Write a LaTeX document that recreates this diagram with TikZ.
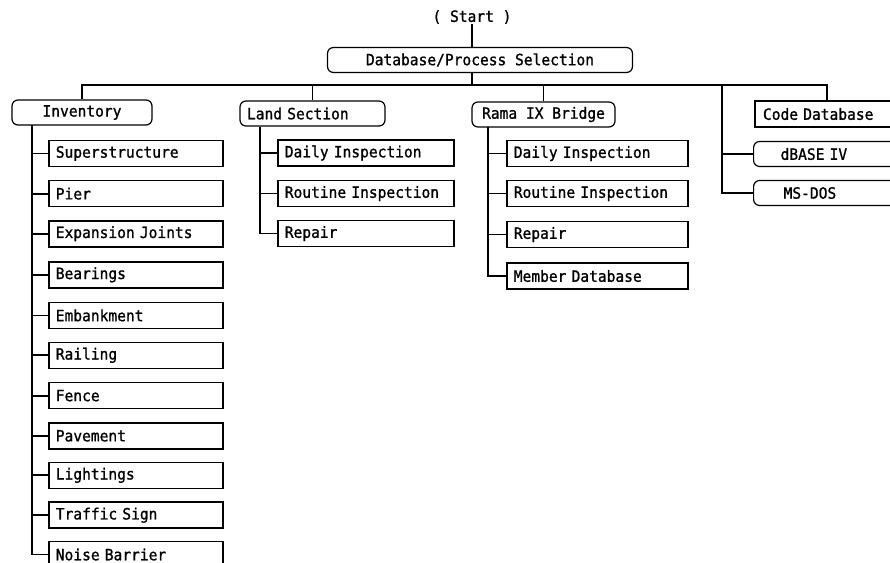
\documentclass[tikz,border=0pt]{standalone}
\usepackage{fontspec}
\setmonofont[FakeStretch=0.94, FakeBold=1.1]{DejaVu Sans Mono}

\tikzstyle{every node}=[font={\fontsize{15.5}{18}\selectfont\ttfamily}, inner sep=0pt]
\tikzstyle{group}=[draw, rounded corners=6pt, line width=1.2pt, minimum height=25pt]
\tikzstyle{leaf}=[draw, line width=1.6pt, minimum height=26pt, text width=160pt, inner xsep=7pt, align=left, anchor=west]
\tikzstyle{link}=[line width=1.8pt]

\begin{document}
\begin{tikzpicture}[x=1pt, y=-1pt]
    \clip (0,0) rectangle (890,562);

    \node (start) at (472,17) {( Start )};
    \node [group, minimum width=305pt] (sel) at (480,60) {Database/Process Selection};
    \coordinate (bus) at (472,85);

    \node [group, minimum width=140pt] (inv) at (82,112.5) {Inventory};
    \node [group, text width=131pt, inner xsep=7pt, align=left] (land) at (312.5,113.5) {Land Section};
    \node [group, minimum width=143pt] (rama) at (543.5,114.5) {Rama IX Bridge};
    \node [leaf, anchor=center, text width=128pt, inner xsep=8pt] (code) at (827,114) {Code Database};
    \node [group, anchor=west, text width=100pt, inner xsep=27pt, align=left] (dbase) at (753,154) {dBASE IV};
    \node [group, anchor=west, text width=94pt, inner xsep=30pt, align=left] (msdos) at (753,193) {MS-DOS};

    \node [leaf] (sup) at (48,153.5) {Superstructure};
    \node [leaf] (pier) at (48,193.6) {Pier};
    \node [leaf] (exp) at (48,233.7) {Expansion Joints};
    \node [leaf] (bear) at (48,274.8) {Bearings};
    \node [leaf] (emb) at (48,315.4) {Embankment};
    \node [leaf] (rail) at (48,355.3) {Railing};
    \node [leaf] (fence) at (48,395.6) {Fence};
    \node [leaf] (pave) at (48,435.8) {Pavement};
    \node [leaf] (light) at (48,475.3) {Lightings};
    \node [leaf] (sign) at (48,515.2) {Traffic Sign};
    \node [leaf] (noise) at (48,554.5) {Noise Barrier};

    \node [leaf, text width=162pt] (ldaily) at (277,153) {Daily Inspection};
    \node [leaf, text width=162pt] (lroutine) at (277,193.5) {Routine Inspection};
    \node [leaf, text width=162pt] (lrepair) at (277,233.5) {Repair};

    \node [leaf, text width=167pt] (rdaily) at (506,153.5) {Daily Inspection};
    \node [leaf, text width=167pt] (rroutine) at (506,193.5) {Routine Inspection};
    \node [leaf, text width=167pt] (rrepair) at (506,234.5) {Repair};
    \node [leaf, text width=167pt] (rmember) at (506,276) {Member Database};

    \coordinate (split) at (722,85);
    \coordinate (invt) at (32,125);
    \coordinate (landt) at (260,127);
    \coordinate (ramat) at (488,127);

    \draw [link] (start.south) -- (start.south |- sel.north);
    \draw [link] (bus |- sel.south) -- (bus);
    \draw [link] (inv.north) |- (code.north |- bus) -- (code.north);
    \draw [link] (land.north) -- (land.north |- bus);
    \draw [link] (rama.north) -- (rama.north |- bus);
    \draw [link] (split) |- (dbase.west) (split) |- (msdos.west);

    \draw [link] (invt) |- (sup.west) (invt) |- (pier.west) (invt) |- (exp.west)
        (invt) |- (bear.west) (invt) |- (emb.west) (invt) |- (rail.west)
        (invt) |- (fence.west) (invt) |- (pave.west) (invt) |- (light.west)
        (invt) |- (sign.west) (invt) |- (noise.west);
    \draw [link] (landt) |- (ldaily.west) (landt) |- (lroutine.west) (landt) |- (lrepair.west);
    \draw [link] (ramat) |- (rdaily.west) (ramat) |- (rroutine.west) (ramat) |- (rrepair.west)
        (ramat) |- (rmember.west);
\end{tikzpicture}
\end{document}
